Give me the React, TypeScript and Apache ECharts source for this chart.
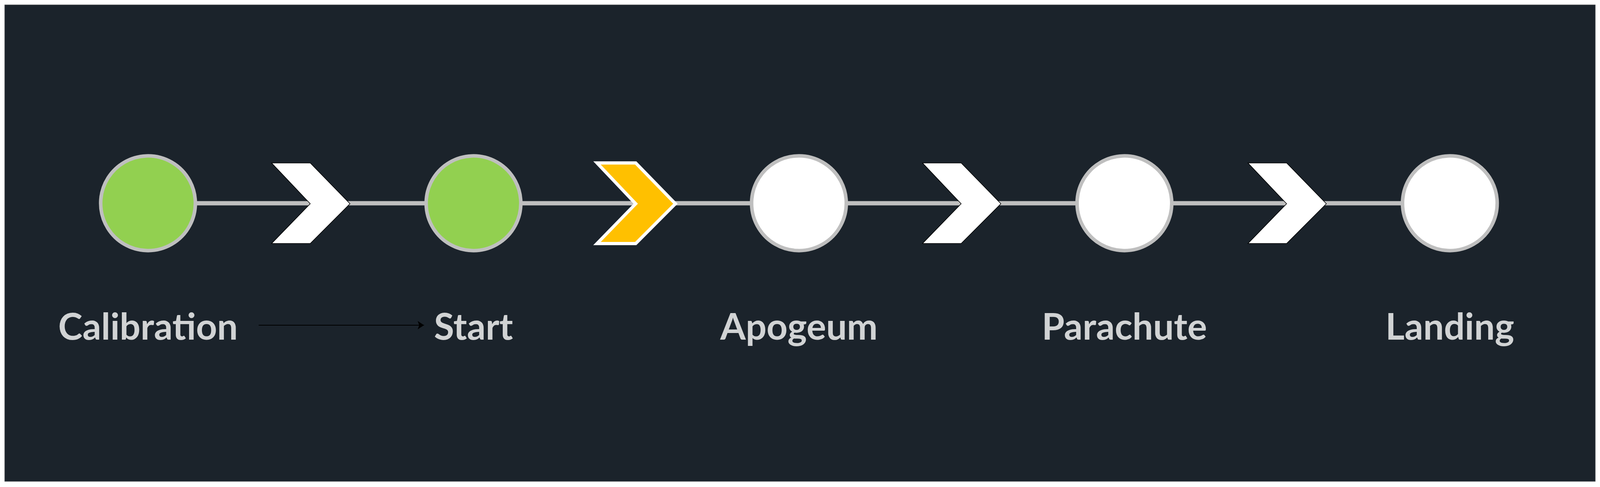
import { useRef, useEffect } from 'react';
import * as echarts from 'echarts';

const stages = ['Calibration', 'Start', 'Apogeum', 'Parachute', 'Landing'];
const stageDone = [true, true, false, false, false];
// position of each chevron between stages (0..3), and which one is active
const chevronPos = [0.5, 1.5, 2.5, 3.5];
const chevronActive = [false, true, false, false];

const CHEVRON = 'path://M0,0 L38,0 L77,40 L38,79 L0,79 L38,40 Z';

export default function App() {
  const ref = useRef<HTMLDivElement>(null);

  useEffect(() => {
    document.body.style.margin = '0';
    document.body.style.overflow = 'hidden';
    if (!ref.current) return;
    const chart = echarts.init(ref.current, undefined, { renderer: 'svg' });
    const W = chart.getWidth();
    const H = chart.getHeight();
    const sx = W / 4529;
    const sy = H / 1246;
    const s = Math.min(sx, sy);
    const labelY = -0.6;

    chart.setOption({
      animation: false,
      backgroundColor: '#ffffff',
      graphic: [
        {
          type: 'rect',
          z: -10,
          shape: { x: 13 * sx, y: 12 * sy, width: 4503 * sx, height: 1220 * sy },
          style: { fill: '#1b232b', stroke: '#9a9a9a', lineWidth: 1 },
          silent: true,
        },
      ],
      grid: { left: 419 * sx, right: 425 * sx, top: 0, height: 1040 * sy },
      xAxis: { type: 'value', min: 0, max: 4, show: false },
      yAxis: { type: 'value', min: -1, max: 1, show: false },
      series: [
        {
          type: 'line',
          data: stages.map((_, i) => [i, 0]),
          symbol: 'none',
          lineStyle: { color: '#bfbfbf', width: 12 * s },
          z: 1,
        },
        {
          type: 'scatter',
          data: chevronPos.map((p, i) => ({
            value: [p, 0],
            itemStyle: chevronActive[i]
              ? { color: '#ffc000', borderColor: '#ffffff', borderWidth: 9 * s, opacity: 1 }
              : { color: '#ffffff', borderColor: '#000000', borderWidth: 1.5, opacity: 1 },
          })),
          symbol: CHEVRON,
          symbolSize: [222 * s, 228 * s],
          z: 2,
        },
        {
          type: 'scatter',
          data: stages.map((_, i) => ({
            value: [i, 0],
            itemStyle: { color: stageDone[i] ? '#92d050' : '#ffffff' },
          })),
          symbol: 'circle',
          symbolSize: 268 * s,
          itemStyle: { borderColor: '#bfbfbf', borderWidth: 10 * s, opacity: 1 },
          z: 3,
        },
        {
          type: 'scatter',
          data: stages.map((st, i) => ({ value: [i, labelY], name: st })),
          symbolSize: 0,
          label: {
            show: true,
            position: 'inside',
            formatter: '{b}',
            color: '#ffffff',
            fontFamily: 'Lato',
            fontWeight: 'bold',
            fontSize: 104 * s,
          },
          markLine: {
            silent: true,
            symbol: ['none', 'arrow'],
            symbolSize: 18 * s,
            label: { show: false },
            lineStyle: { color: '#000000', width: 2, type: 'solid' },
            data: [[{ coord: [0.34, labelY] }, { coord: [0.848, labelY] }]],
          },
          z: 4,
        },
      ],
    });

    return () => chart.dispose();
  }, []);

  return <div ref={ref} style={{ width: '100vw', height: '100vh' }} />;
}
